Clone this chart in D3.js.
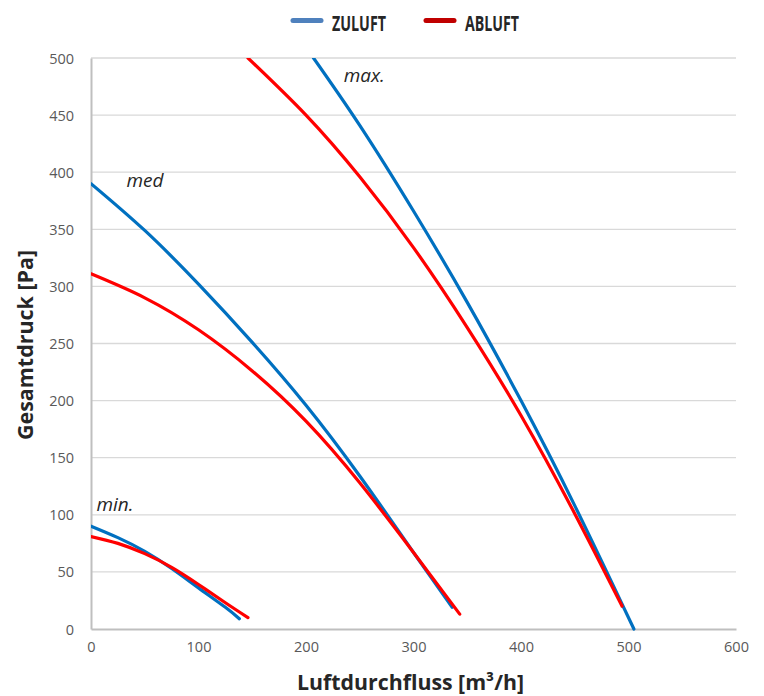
<!DOCTYPE html>
<html><head><meta charset="utf-8">
<script src="https://cdn.jsdelivr.net/npm/d3@7"></script>
<style>body{margin:0;background:#fff}svg{display:block}</style>
</head><body>
<svg id="c" width="764" height="696"></svg>
<script>
// Data (x: Luftdurchfluss m³/h, y: Gesamtdruck Pa)
const xTicks = [0, 100, 200, 300, 400, 500, 600];
const yTicks = [0, 50, 100, 150, 200, 250, 300, 350, 400, 450, 500];
const seriesNames = ["ZULUFT", "ABLUFT"];

const minZuX = [0, 25, 50, 75, 100, 125, 138];
const minZuY = [90, 80, 68, 53, 36, 19, 9];
const minAbX = [0, 25, 50, 75, 100, 125, 146];
const minAbY = [81, 75, 66, 54, 39, 23, 10];

const medZuX = [0, 50, 100, 150, 200, 250, 300, 336];
const medZuY = [390, 349, 302, 251, 196, 134, 67, 19];
const medAbX = [0, 50, 100, 150, 200, 250, 300, 343];
const medAbY = [311, 290, 262, 226, 182, 128, 67, 13];

const maxZuX = [207, 250, 300, 350, 400, 450, 505];
const maxZuY = [500, 441, 366, 286, 200, 108, 0];
const maxAbX = [146, 200, 250, 300, 350, 400, 450, 494];
const maxAbY = [500, 450, 396, 334, 264, 187, 101, 20];

const curveLabels = ["min.", "med", "max."];
const labelPos = [[5, 103], [33, 387], [235, 479]];

const margin = {left: 91, right: 28, top: 58, bottom: 67};
const W = 764, H = 696;
const svg = d3.select("#c");
const x = d3.scaleLinear().domain([0, 600]).range([margin.left, W - margin.right]);
const y = d3.scaleLinear().domain([0, 500]).range([H - margin.bottom, margin.top]);

const font = "'Open Sans', 'Noto Sans', sans-serif";

// gridlines
svg.append("g").selectAll("line").data(yTicks.filter(d => d > 0)).join("line")
  .attr("x1", x(0)).attr("x2", x(600))
  .attr("y1", d => y(d)).attr("y2", d => y(d))
  .attr("stroke", "#d9d9d9").attr("stroke-width", 1.3);

// axes
const xAxis = svg.append("g").attr("transform", `translate(0,${y(0)})`)
  .call(d3.axisBottom(x).tickValues(xTicks).tickSize(0).tickPadding(13));
const yAxis = svg.append("g").attr("transform", `translate(${x(0)},0)`)
  .call(d3.axisLeft(y).tickValues(yTicks).tickSize(0).tickPadding(17));
[xAxis, yAxis].forEach(a => {
  a.select(".domain").attr("stroke", "#bfbfbf").attr("stroke-width", 2);
  a.selectAll("text").attr("fill", "#595959").style("font-family", font).style("font-size", "14.5px");
});
yAxis.selectAll("text").attr("dy", "0.35em");

// curves
const line = d3.line().x(d => x(d[0])).y(d => y(d[1])).curve(d3.curveNatural);
const zip = (a, b) => a.map((v, i) => [v, b[i]]);
const curves = [
  [zip(minZuX, minZuY), "#0070c0"],
  [zip(minAbX, minAbY), "#ff0000"],
  [zip(medZuX, medZuY), "#0070c0"],
  [zip(medAbX, medAbY), "#ff0000"],
  [zip(maxZuX, maxZuY), "#0070c0"],
  [zip(maxAbX, maxAbY), "#ff0000"]
];
svg.append("defs").append("clipPath").attr("id", "clip").append("rect")
  .attr("x", x(0)).attr("y", y(500)).attr("width", x(600) - x(0)).attr("height", y(0) - y(500) + 3);
const cg = svg.append("g").attr("clip-path", "url(#clip)");
curves.forEach(([pts, col]) => {
  cg.append("path").attr("d", line(pts)).attr("fill", "none")
    .attr("stroke", col).attr("stroke-width", 3.2).attr("stroke-linecap", "round");
});

// curve labels
svg.append("g").selectAll("text").data(curveLabels).join("text")
  .attr("x", (d, i) => x(labelPos[i][0])).attr("y", (d, i) => y(labelPos[i][1]))
  .text(d => d).attr("fill", "#262626")
  .style("font-family", font).style("font-style", "italic").style("font-size", "19px");

// axis titles
svg.append("text").attr("x", 297).attr("y", 690).text("Luftdurchfluss [m³/h]")
  .attr("textLength", 227).attr("lengthAdjust", "spacingAndGlyphs")
  .attr("fill", "#262626").style("font-family", font).style("font-weight", "bold").style("font-size", "21px");
svg.append("text").attr("transform", "translate(33,345) rotate(-90)").attr("text-anchor", "middle")
  .text("Gesamtdruck [Pa]").attr("textLength", 190).attr("lengthAdjust", "spacingAndGlyphs")
  .attr("fill", "#262626").style("font-family", font).style("font-weight", "bold").style("font-size", "21px");

// legend
const legCols = ["#4f81bd", "#c00000"];
const legX = [291, 424];
const legTextX = [332, 465];
const legW = [54, 54];
const lg = svg.append("g");
seriesNames.forEach((n, i) => {
  lg.append("line").attr("x1", legX[i] + 2).attr("x2", legX[i] + 30).attr("y1", 20.5).attr("y2", 20.5)
    .attr("stroke", legCols[i]).attr("stroke-width", 5).attr("stroke-linecap", "round");
  lg.append("text").attr("x", legTextX[i]).attr("y", 30.5).text(n)
    .attr("textLength", legW[i]).attr("lengthAdjust", "spacingAndGlyphs")
    .attr("fill", "#262626").style("font-family", font).style("font-weight", "bold").style("font-size", "21px");
});
</script>
</body></html>
